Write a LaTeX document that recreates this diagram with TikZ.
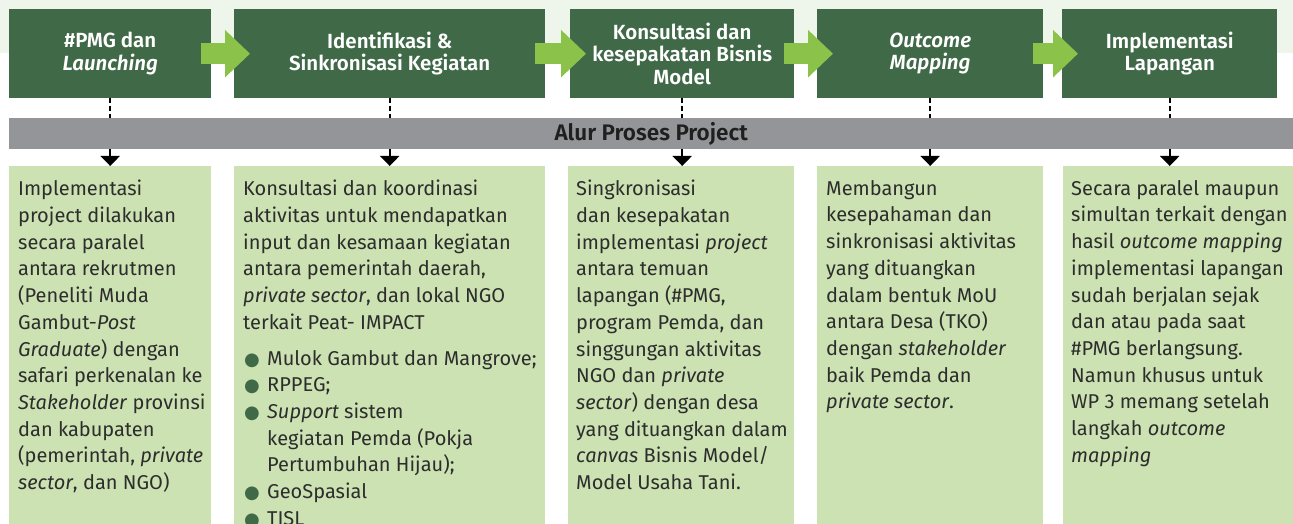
\documentclass[tikz,border=0pt]{standalone}
\usepackage{fontspec}
\setmainfont{Fira Sans}[BoldFont={* SemiBold},BoldItalicFont={* SemiBold Italic}]
\newfontfamily\dotfont{DejaVu Sans}
\usepackage{tikz}
\usetikzlibrary{arrows.meta,positioning}
\definecolor{dkg}{RGB}{64,105,72}
\definecolor{ltg}{RGB}{204,226,178}
\definecolor{arg}{RGB}{139,195,74}
\definecolor{barc}{RGB}{147,149,152}
\definecolor{band}{RGB}{238,245,234}
\definecolor{txt}{RGB}{45,45,45}
\newcommand{\headsize}{\fontsize{20.5}{22.5}\selectfont}
\newcommand{\bodysize}{\fontsize{20}{26.7}\selectfont}
% green dot in front of a list item
\newcommand{\bul}{\makebox[24pt][l]{\hspace{1pt}\textcolor{dkg}{\dotfont\fontsize{18}{0}\selectfont ●}}}

\begin{document}
\begin{tikzpicture}[x=1pt,y=-1pt,>={Triangle[length=10pt,width=19pt]},
  every node/.style={inner sep=0pt},
  stage/.style={fill=dkg,text=white,font=\headsize\bfseries,align=center,minimum height=89pt,anchor=north west},
  note/.style={fill=ltg,minimum height=380pt,anchor=north west},
  body/.style={text=txt,font=\bodysize,align=left,anchor=north west},
  flow/.style={arg,line width=21pt,-{Triangle[length=25pt 0 0,width=46pt 0 0]}},
  link/.style={line width=2pt,dash pattern=on 5pt off 3pt}]
  \useasboundingbox (0,0) rectangle (1293,524);
  \clip (0,0) rectangle (1293,524);
  \fill[band] (0,0) rectangle (1293,53);

  % stages
  \node[stage,minimum width=202pt] (S1) at (9,9) {\#PMG dan\\\textit{Launching}};
  \node[stage,minimum width=311pt] (S2) at (234,9) {Identifikasi \&\\Sinkronisasi Kegiatan};
  \node[stage,minimum width=224pt] (S3) at (570,9) {Konsultasi dan\\kesepakatan Bisnis\\Model};
  \node[stage,minimum width=226pt] (S4) at (817,9) {\textit{Outcome}\\\textit{Mapping}};
  \node[stage,minimum width=215pt] (S5) at (1062,9) {Implementasi\\Lapangan};

  \node[fill=barc,minimum width=1284pt,minimum height=31pt,anchor=north west,
    text=black!88,font=\fontsize{22.5}{24}\selectfont\bfseries] (P) at (9,118) {Alur Proses Project};

  % description boxes
  \node[note,minimum width=202pt] (D1) at (9,166) {};
  \node[note,minimum width=311pt] (D2) at (234,166) {};
  \node[note,minimum width=226pt] (D3) at (568,166) {};
  \node[note,minimum width=226pt] (D4) at (817,166) {};
  \node[note,minimum width=240pt] (D5) at (1063,166) {};

  \node[body] (T1) at ([xshift=9pt,yshift=-14pt]D1.north west) {Implementasi\\project dilakukan\\secara paralel\\antara rekrutmen\\(Peneliti Muda\\Gambut-\textit{Post}\\\textit{Graduate}) dengan\\safari perkenalan ke\\\textit{Stakeholder} provinsi\\dan kabupaten\\(pemerintah, \textit{private}\\\textit{sector}, dan NGO)};
  \node[body] (T2) at ([xshift=9pt,yshift=-14pt]D2.north west) {Konsultasi dan koordinasi\\aktivitas untuk mendapatkan\\input dan kesamaan kegiatan\\antara pemerintah daerah,\\\textit{private sector}, dan lokal NGO\\terkait Peat- IMPACT\\[9pt]
    \bul Mulok Gambut dan Mangrove;\\\bul RPPEG;\\\bul\textit{Support} sistem\\\hspace*{24pt}kegiatan Pemda (Pokja\\\hspace*{24pt}Pertumbuhan Hijau);\\\bul GeoSpasial\\\bul TJSL};
  \node[body] (T3) at ([xshift=8pt,yshift=-14pt]D3.north west) {Singkronisasi\\dan kesepakatan\\implementasi \textit{project}\\antara temuan\\lapangan (\#PMG,\\program Pemda, dan\\singgungan aktivitas\\NGO dan \textit{private}\\\textit{sector}) dengan desa\\yang dituangkan dalam\\\textit{canvas} Bisnis Model/\\Model Usaha Tani.};
  \node[body] (T4) at ([xshift=9pt,yshift=-14pt]D4.north west) {Membangun\\kesepahaman dan\\sinkronisasi aktivitas\\yang dituangkan\\dalam bentuk MoU\\antara Desa (TKO)\\dengan \textit{stakeholder}\\baik Pemda dan\\\textit{private sector}.};
  \node[body] (T5) at ([xshift=8pt,yshift=-14pt]D5.north west) {Secara paralel maupun\\simultan terkait dengan\\hasil \textit{outcome mapping}\\implementasi lapangan\\sudah berjalan sejak\\dan atau pada saat\\\#PMG berlangsung.\\Namun khusus untuk\\WP 3 memang setelah\\langkah \textit{outcome}\\\textit{mapping}};

  % links down through the bar
  \foreach \i in {1,...,5} {
    \draw[link] (S\i.south) -- (S\i.south |- P.north);
    \draw[->,line width=2pt] (S\i.south |- P.south) -- (S\i.south |- D\i.north);
  }
  \foreach \a/\b in {S1/S2,S2/S3,S3/S4,S4/S5}
    \draw[flow] ([xshift=-10pt]\a.east) -- ([xshift=16pt]\b.west);
\end{tikzpicture}
\end{document}
